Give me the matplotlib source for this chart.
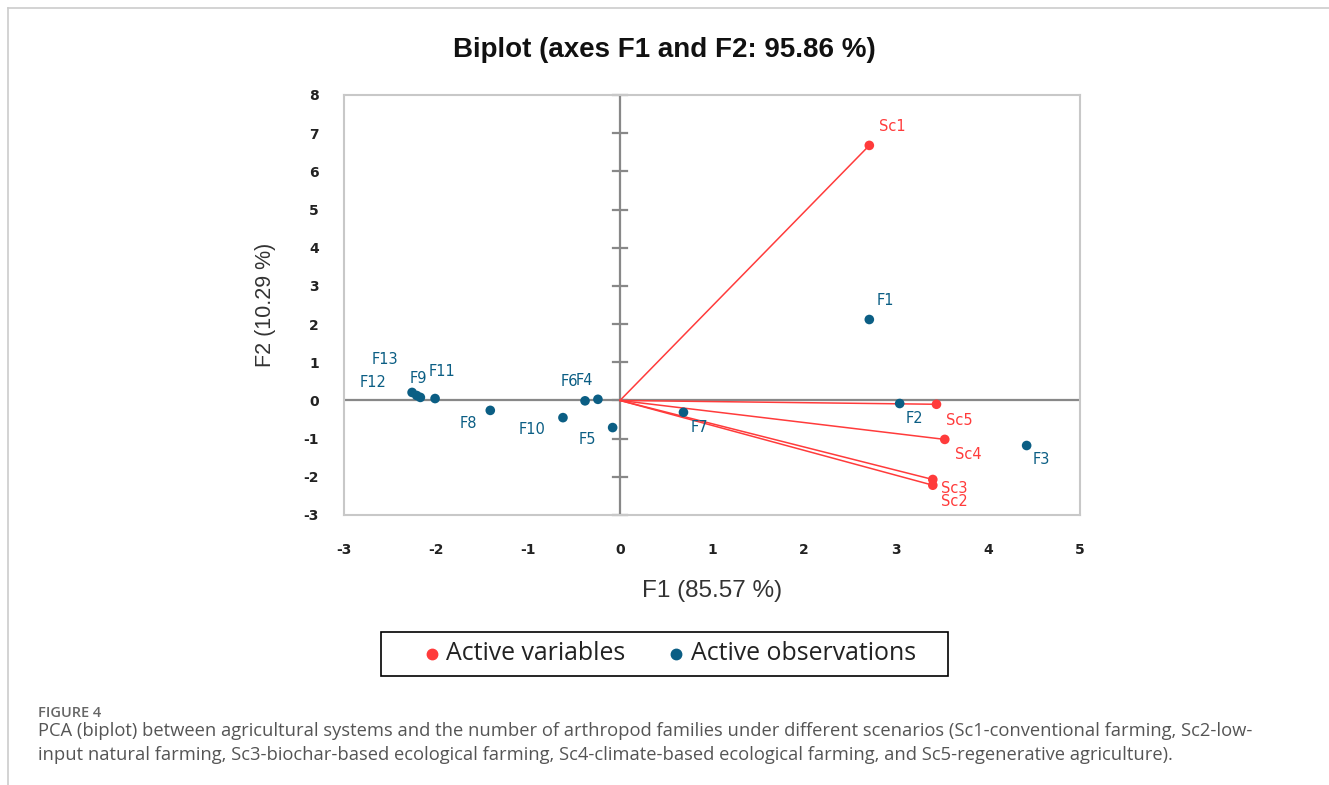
import matplotlib
matplotlib.use("Agg")
import matplotlib.pyplot as plt
from matplotlib.lines import Line2D
from matplotlib.patches import Rectangle

# ---- data ----
var_names = ["Sc1", "Sc2", "Sc3", "Sc4", "Sc5"]
var_x = [2.71, 3.40, 3.40, 3.53, 3.44]
var_y = [6.68, -2.22, -2.07, -1.02, -0.10]

obs_names = ["F1", "F2", "F3", "F4", "F5", "F6", "F7", "F8", "F9", "F10", "F11", "F12", "F13"]
obs_x = [2.71, 3.04, 4.42, -0.24, -0.08, -0.38, 0.69, -1.41, -2.17, -0.62, -2.01, -2.26, -2.21]
obs_y = [2.12, -0.08, -1.18, 0.03, -0.71, -0.01, -0.31, -0.26, 0.08, -0.45, 0.05, 0.21, 0.13]

x_ticks = [-3, -2, -1, 0, 1, 2, 3, 4, 5]
y_ticks = [-3, -2, -1, 0, 1, 2, 3, 4, 5, 6, 7, 8]

title = "Biplot (axes F1 and F2: 95.86 %)"
x_label = "F1 (85.57 %)"
y_label = "F2 (10.29 %)"
legend_labels = ["Active variables", "Active observations"]
caption_head = "FIGURE 4"
caption_lines = [
    "PCA (biplot) between agricultural systems and the number of arthropod families under different scenarios (Sc1-conventional farming, Sc2-low-",
    "input natural farming, Sc3-biochar-based ecological farming, Sc4-climate-based ecological farming, and Sc5-regenerative agriculture).",
]

# ---- styling (label offsets in pixels) ----
var_offsets = {"Sc1": (10, 19), "Sc2": (8, -16), "Sc3": (8, -9), "Sc4": (10, -15), "Sc5": (10, -16)}
obs_offsets = {"F1": (7, 19), "F2": (6, -15), "F3": (6, -14), "F4": (-22, 19), "F5": (-34, -12),
               "F6": (-24, 19), "F7": (7, -15), "F8": (-31, -13), "F9": (-11, 19), "F10": (-44, -12),
               "F11": (-6, 27), "F12": (-52, 10), "F13": (-45, 36)}

RED = "#FF3B3B"
BLUE = "#0B5E84"

fig = plt.figure(figsize=(13.29, 7.85), dpi=100)
W, H = 1329, 785

# page lines
fig.add_artist(Line2D([8 / W, 1], [1 - 8 / H, 1 - 8 / H], color="#cccccc", lw=1.2))
fig.add_artist(Line2D([8 / W, 8 / W], [0, 1 - 8 / H], color="#cccccc", lw=1.2))

ax = fig.add_axes([344 / W, 1 - 515 / H, 736 / W, 420 / H])
ax.set_xlim(-3, 5)
ax.set_ylim(-3, 8)
for s in ax.spines.values():
    s.set_color("#c8c8c8")
    s.set_linewidth(1.5)

ax.set_xticks(x_ticks)
ax.set_yticks(y_ticks)
ax.set_xticklabels([str(t) for t in x_ticks], fontsize=10, fontweight="bold", color="#222222")
ax.set_yticklabels([str(t) for t in y_ticks], fontsize=10, fontweight="bold", color="#222222")
ax.tick_params(axis="x", length=0, pad=20)
ax.tick_params(axis="y", length=0, pad=18)

# zero lines
ax.axhline(0, color="#888888", lw=1.6, zorder=1)
ax.axvline(0, color="#888888", lw=1.6, zorder=1)
for t in y_ticks:
    ax.plot([-0.075, 0.075], [t, t], color="#888888", lw=1.6, zorder=1, clip_on=False)

# vectors
for x, y in zip(var_x, var_y):
    ax.plot([0, x], [0, y], color=RED, lw=1.1, zorder=2)
ax.scatter(var_x, var_y, s=48, color=RED, zorder=3, edgecolors="none")
ax.scatter(obs_x, obs_y, s=48, color=BLUE, zorder=3, edgecolors="none")

for n, x, y in zip(var_names, var_x, var_y):
    dx, dy = var_offsets[n]
    ax.annotate(n, (x, y), xytext=(dx, dy), textcoords="offset pixels", color=RED,
                fontsize=10.5, ha="left", va="center", family="DejaVu Sans")
for n, x, y in zip(obs_names, obs_x, obs_y):
    dx, dy = obs_offsets[n]
    ax.annotate(n, (x, y), xytext=(dx, dy), textcoords="offset pixels", color=BLUE,
                fontsize=10.5, ha="left", va="center", family="DejaVu Sans")

ax.set_xlabel(x_label, fontsize=17.5, family="Liberation Sans", color="#333333", labelpad=17)
ax.set_ylabel(y_label, fontsize=15.5, family="Liberation Sans", color="#333333", labelpad=20)

fig.text(664 / W, 1 - 50 / H, title, fontsize=20, fontweight="bold", family="Liberation Sans",
         ha="center", va="center", color="#111111")

# legend box
lx0, ly0, lx1, ly1 = 381, 632, 948, 676
fig.add_artist(Rectangle((lx0 / W, 1 - ly1 / H), (lx1 - lx0) / W, (ly1 - ly0) / H,
                         transform=fig.transFigure, facecolor="white", edgecolor="black", lw=1.2))
ly = 1 - 654 / H
for (mx, tx), col, lab in zip([(432, 446), (676, 691)], [RED, BLUE], legend_labels):
    fig.add_artist(Line2D([mx / W], [ly], marker="o", color=col, markersize=7.5, ls="none"))
    fig.text(tx / W, ly, lab, fontsize=17.9, family="Open Sans", color="#222222",
             ha="left", va="center")

fig.text(38 / W, 1 - 713 / H, caption_head, fontsize=10.5, family="Open Sans", color="#666666",
         ha="left", va="center", fontweight="semibold")
for i, line in enumerate(caption_lines):
    fig.text(38 / W, 1 - (731 + 24 * i) / H, line, fontsize=13.2, family="Open Sans",
             color="#555555", ha="left", va="center")

fig.savefig("out.png", dpi=100)
